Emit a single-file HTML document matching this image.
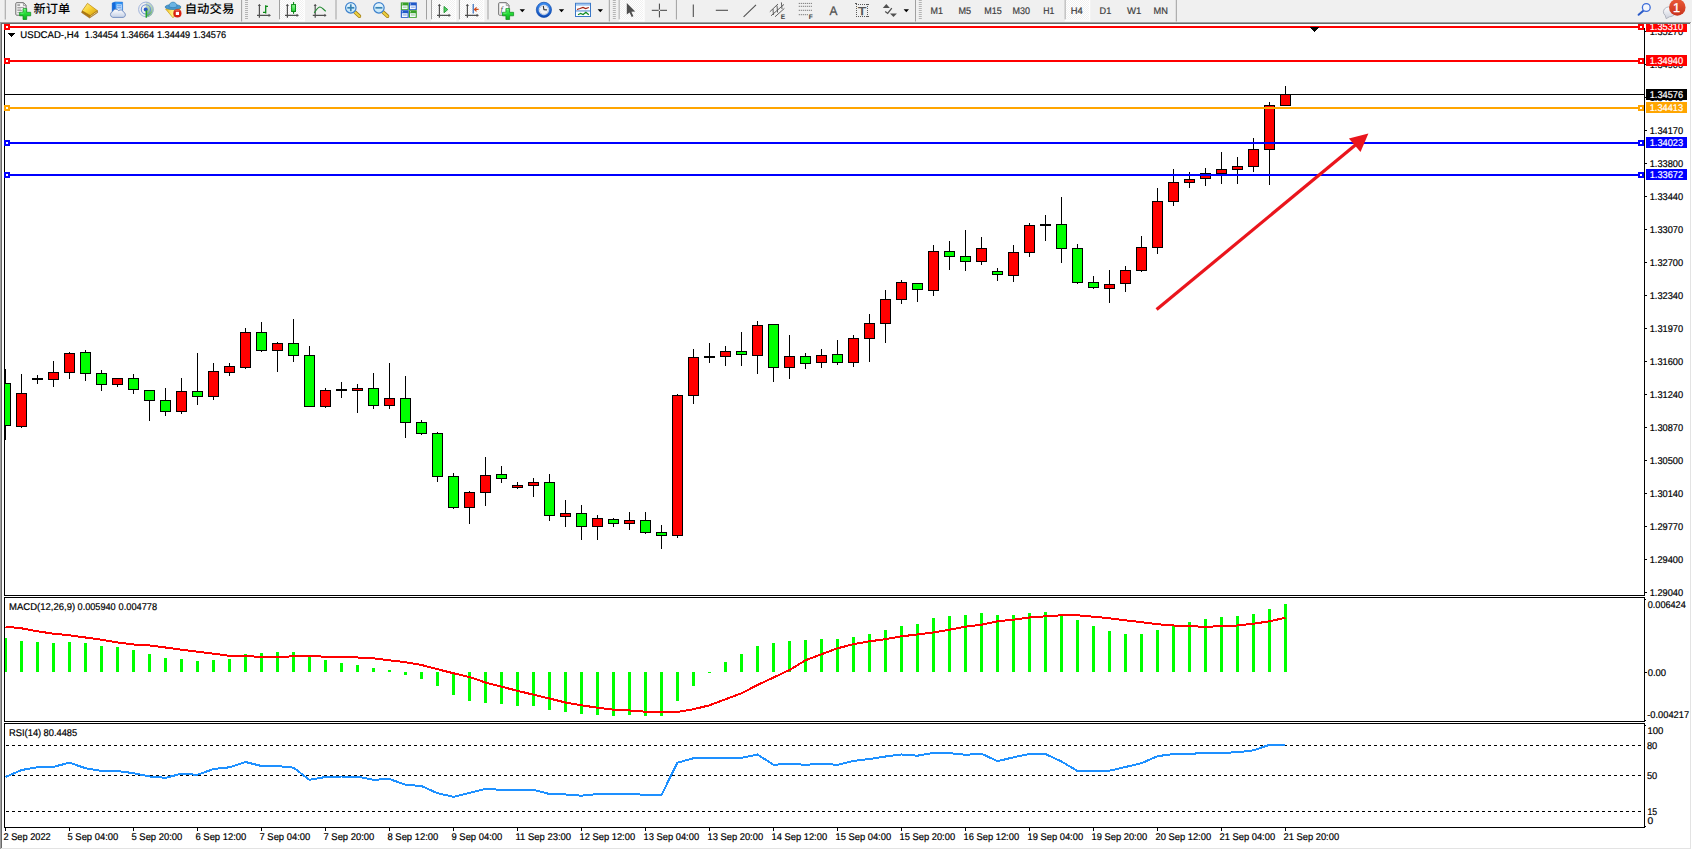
<!DOCTYPE html>
<html lang="zh-CN">
<head>
<meta charset="utf-8">
<title>USDCAD-,H4</title>
<style>
html,body{margin:0;padding:0;background:#ffffff;overflow:hidden;}
body{width:1692px;height:850px;position:relative;font-family:"Liberation Sans","Noto Sans CJK SC",sans-serif;}
svg text{white-space:pre;text-rendering:geometricPrecision;}
</style>
</head>
<body>
<svg width="1692" height="850" viewBox="0 0 1692 850" style="position:absolute;left:0;top:0;font-family:'Liberation Sans','Noto Sans CJK SC',sans-serif">
<defs>
<linearGradient id="gBadge" x1="0" y1="0" x2="0" y2="1"><stop offset="0" stop-color="#ea5a36"/><stop offset="1" stop-color="#c8321c"/></linearGradient>
<linearGradient id="gGold" x1="0" y1="0" x2="1" y2="1"><stop offset="0" stop-color="#fff090"/><stop offset="0.5" stop-color="#f8d030"/><stop offset="1" stop-color="#d09a10"/></linearGradient>
<linearGradient id="gGreen" x1="0" y1="0" x2="0" y2="1"><stop offset="0" stop-color="#58f468"/><stop offset="0.5" stop-color="#22d834"/><stop offset="1" stop-color="#10a81c"/></linearGradient>
<linearGradient id="gBlue" x1="0" y1="0" x2="0" y2="1"><stop offset="0" stop-color="#5aa0f0"/><stop offset="1" stop-color="#1048b8"/></linearGradient>
<linearGradient id="gLens" x1="0" y1="0" x2="0" y2="1"><stop offset="0" stop-color="#eaf8ff"/><stop offset="1" stop-color="#bfe4f8"/></linearGradient>
<linearGradient id="gTop" x1="0" y1="0" x2="0" y2="1"><stop offset="0" stop-color="#f0f0f0"/><stop offset="0.35" stop-color="#a6a6a6"/><stop offset="0.8" stop-color="#8a8a8a"/><stop offset="1" stop-color="#c8c8c8"/></linearGradient>
<pattern id="pDot" width="2" height="2" patternUnits="userSpaceOnUse"><rect width="2" height="2" fill="#ffffff"/><rect width="1" height="1" fill="#f0f0f0"/><rect x="1" y="1" width="1" height="1" fill="#f0f0f0"/></pattern>
<linearGradient id="gSig" x1="0" y1="0" x2="0" y2="1"><stop offset="0" stop-color="#d4e2d8"/><stop offset="0.5" stop-color="#a4cca4"/><stop offset="1" stop-color="#48a848"/></linearGradient>
<linearGradient id="gBlue2" x1="0" y1="0" x2="1" y2="1"><stop offset="0" stop-color="#40a8ff"/><stop offset="1" stop-color="#1878e8"/></linearGradient>
<linearGradient id="gCloud" x1="0" y1="0" x2="0" y2="1"><stop offset="0" stop-color="#ffffff"/><stop offset="1" stop-color="#c4d0e6"/></linearGradient>
<linearGradient id="gFun" x1="0" y1="0" x2="1" y2="0"><stop offset="0" stop-color="#f0c020"/><stop offset="0.45" stop-color="#fff080"/><stop offset="1" stop-color="#e8b018"/></linearGradient>
<linearGradient id="gBub" x1="0" y1="0" x2="0" y2="1"><stop offset="0" stop-color="#ffffff"/><stop offset="1" stop-color="#ccd0dc"/></linearGradient>
<linearGradient id="gCan" x1="0" y1="0" x2="0" y2="1"><stop offset="0" stop-color="#98ff9c"/><stop offset="1" stop-color="#20d030"/></linearGradient>
<linearGradient id="gClk" x1="0" y1="0" x2="0" y2="1"><stop offset="0" stop-color="#3c90f4"/><stop offset="1" stop-color="#0c48b4"/></linearGradient>
</defs>
<rect x="0" y="0" width="1692" height="850" fill="#ffffff"/>
<rect x="0" y="0" width="1692" height="22" fill="#f0f0f0"/>
<g shape-rendering="crispEdges">
<rect x="0" y="22" width="1691" height="1" fill="#a0a0a0"/>
<rect x="0" y="22" width="1" height="827" fill="#a0a0a0"/>
<rect x="1" y="23" width="1689" height="1" fill="#696969"/>
<rect x="1" y="23" width="1" height="825" fill="#696969"/>
<rect x="1690" y="23" width="1" height="826" fill="#e3e3e3"/>
<rect x="1" y="848" width="1690" height="1" fill="#e3e3e3"/>
<rect x="1691" y="22" width="1" height="828" fill="#ffffff"/>
</g>
<rect x="4.75" y="0" width="1" height="19.5" fill="#a0a0a0"/>
<path d="M16.6 2.7 H23.6 L26.1 5.4 V14.2 Q26.1 15.2 25.1 15.2 H16.6 Q15.8 15.2 15.8 14.2 V3.6 Q15.8 2.7 16.6 2.7 Z" fill="#fbfbfb" stroke="#6a6a6a" stroke-width="1"/>
<path d="M23.4 2.9 V5.6 H26" fill="none" stroke="#8a8a8a" stroke-width="0.8"/>
<rect x="17.3" y="4.4" width="2.8" height="1.3" fill="#808080"/>
<rect x="17.3" y="6.9" width="7" height="0.9" fill="#909090"/>
<rect x="17.3" y="8.6" width="4" height="0.9" fill="#909090"/>
<rect x="17.3" y="10.2" width="4.6" height="0.9" fill="#909090"/>
<rect x="17.3" y="12.3" width="2.4" height="0.9" fill="#909090"/>
<path d="M23 8.6 H26.7 V12.3 H30.7 V15.8 H26.7 V19.5 H23 V15.8 H19.6 V12.3 H23 Z" fill="url(#gGreen)" stroke="#0c8a18" stroke-width="0.7" stroke-linejoin="round"/>
<path d="M23.8 9.4 H25.4 M20.4 13.1 H23.6" stroke="#a8ffb0" stroke-width="0.7" fill="none" opacity="0.8"/>
<text x="33.6" y="13" font-size="12" font-weight="500" fill="#000" textLength="36.8" lengthAdjust="spacingAndGlyphs">新订单</text>
<g stroke-linejoin="round">
<path d="M81.9 11.4 L87.4 3.4 L97.5 10.9 L90 17 Z" fill="#9a6408"/>
<path d="M90.3 15.6 L97.5 10.6 L97.6 12.6 L89.6 18 L81.6 12.6 L82 11.2 Z" fill="#b07a14" stroke="#8a5a06" stroke-width="0.5"/>
<path d="M90.4 16.4 L97.2 11.6" stroke="#f4e4b0" stroke-width="0.7"/>
<path d="M82.2 10.8 L87.5 3.3 L97.3 10.5 L90.4 15.5 Z" fill="url(#gGold)" stroke="#b88410" stroke-width="0.6"/>
</g>
<g>
<path d="M112.2 3 L115.4 1.9 L122.6 2.1 L122.6 12 L112.2 12 Z" fill="url(#gBlue2)" stroke="#1c6cd0" stroke-width="0.5"/>
<path d="M112.2 3 L115.4 1.9 L115.4 12 L112.2 12 Z" fill="#1468d8"/>
<rect x="116.6" y="4.4" width="5.2" height="6" fill="#d8ecff"/>
<rect x="117.2" y="5.4" width="4" height="0.9" fill="#3a80e0"/><rect x="117.2" y="7.4" width="4" height="0.9" fill="#3a80e0"/>
<path d="M112.8 17.4 A3 3 0 0 1 112.6 11.6 A3.4 3.4 0 0 1 118.6 10.6 A3.2 3.2 0 0 1 123.6 12.2 A2.7 2.7 0 0 1 123.2 17.4 Z" fill="url(#gCloud)" stroke="#6c88bc" stroke-width="0.9"/>
</g>
<g>
<path d="M145.9 1.6 A7.8 7.8 0 0 1 145.9 17.2 Z" fill="url(#gSig)"/>
<circle cx="145.9" cy="9.4" r="7.3" fill="none" stroke="#a0b4dc" stroke-width="1"/>
<circle cx="145.9" cy="9.4" r="4.6" fill="none" stroke="#6c90d4" stroke-width="1.1"/>
<circle cx="145.7" cy="9.4" r="2" fill="#2858c8"/>
<rect x="145.6" y="10.3" width="1.5" height="7.4" fill="#22a428"/>
</g>
<g>
<path d="M165.6 9 L180.6 8.2 L173 17.8 Z" fill="url(#gFun)" stroke="#c89a10" stroke-width="0.7" stroke-linejoin="round"/>
<ellipse cx="173" cy="7" rx="7.9" ry="2.5" fill="#4a98d0" stroke="#2c78ac" stroke-width="0.7"/>
<path d="M169 6.6 C169 0.6 177 0.6 177 6.6 C175 8 171 8 169 6.6 Z" fill="#6ab4e4" stroke="#2c78ac" stroke-width="0.6"/>
<circle cx="177.4" cy="13.4" r="4.1" fill="#d82010"/>
<path d="M174 11.6 A4 4 0 0 1 180.6 11.2 A6 4 0 0 0 174 11.6 Z" fill="#f08070" opacity="0.7"/>
<rect x="175.8" y="11.8" width="3.2" height="3.2" fill="#fff"/>
</g>
<text x="184.7" y="13" font-size="12" font-weight="500" fill="#000" textLength="49.6" lengthAdjust="spacingAndGlyphs">自动交易</text>
<rect x="241.10" y="0" width="1" height="21.5" fill="#a0a0a0"/>
<rect x="245.0" y="0" width="3" height="1" fill="#b4b4b4"/>
<rect x="245.0" y="2" width="3" height="1" fill="#b4b4b4"/>
<rect x="245.0" y="4" width="3" height="1" fill="#b4b4b4"/>
<rect x="245.0" y="6" width="3" height="1" fill="#b4b4b4"/>
<rect x="245.0" y="8" width="3" height="1" fill="#b4b4b4"/>
<rect x="245.0" y="10" width="3" height="1" fill="#b4b4b4"/>
<rect x="245.0" y="12" width="3" height="1" fill="#b4b4b4"/>
<rect x="245.0" y="14" width="3" height="1" fill="#b4b4b4"/>
<rect x="245.0" y="16" width="3" height="1" fill="#b4b4b4"/>
<rect x="245.0" y="18" width="3" height="1" fill="#b4b4b4"/>
<path d="M259.4 4.4 V17.8 M257 15.4 H270.2" stroke="#505050" stroke-width="1.2" fill="none"/>
<path d="M257.8 6 L259.4 3.9 L261 6 Z M268.6 13.8 L270.8 15.4 L268.6 17 Z" fill="#505050" stroke="none"/>
<path d="M265.7 5.3 V13.4 M265.7 6.4 H268 M263 12.4 H265.7" stroke="#0c8a18" stroke-width="1.3" fill="none"/>
<rect x="279.00" y="0" width="1" height="19.5" fill="#a0a0a0"/>
<rect x="280" y="0" width="24.5" height="19.6" fill="url(#pDot)"/>
<rect x="303.7" y="0" width="1" height="21.4" fill="#ffffff"/>
<rect x="279" y="19.6" width="25.7" height="1.8" fill="#ffffff"/>
<path d="M287.4 4.4 V17.8 M285 15.4 H298.2" stroke="#505050" stroke-width="1.2" fill="none"/>
<path d="M285.8 6 L287.4 3.9 L289 6 Z M296.6 13.8 L298.8 15.4 L296.6 17 Z" fill="#505050" stroke="none"/>
<rect x="293" y="2.1" width="1.1" height="11.7" fill="#0c8a18"/>
<rect x="291.6" y="4.6" width="3.9" height="6.9" fill="url(#gCan)" stroke="#0c8a18" stroke-width="1"/>
<path d="M315.2 4.4 V17.8 M312.8 15.4 H326.0" stroke="#505050" stroke-width="1.2" fill="none"/>
<path d="M313.6 6 L315.2 3.9 L316.8 6 Z M324.40000000000003 13.8 L326.6 15.4 L324.40000000000003 17 Z" fill="#505050" stroke="none"/>
<path d="M314.2 12.8 C316.5 10 318 6.8 320 7 C322 7.2 323.5 9.6 325.8 11.2" stroke="#208a30" stroke-width="1.1" fill="none"/>
<rect x="335.50" y="0" width="1" height="19.5" fill="#a0a0a0"/>
<path d="M355.0 12.2 L359.40000000000003 16.2" stroke="#a07c14" stroke-width="3.6" stroke-linecap="round"/>
<path d="M355.0 12.2 L359.40000000000003 16.2" stroke="#ecd040" stroke-width="2.2" stroke-linecap="round"/>
<circle cx="350.8" cy="7.8" r="5.25" fill="url(#gLens)" stroke="#3c80cc" stroke-width="1.2"/>
<rect x="347.3" y="6.95" width="7" height="1.7" fill="#3a84b4"/>
<rect x="349.95" y="4.3" width="1.7" height="7" fill="#3a84b4"/>
<path d="M383.1 12.2 L387.50000000000006 16.2" stroke="#a07c14" stroke-width="3.6" stroke-linecap="round"/>
<path d="M383.1 12.2 L387.50000000000006 16.2" stroke="#ecd040" stroke-width="2.2" stroke-linecap="round"/>
<circle cx="378.90000000000003" cy="7.8" r="5.25" fill="url(#gLens)" stroke="#3c80cc" stroke-width="1.2"/>
<rect x="375.40000000000003" y="6.95" width="7" height="1.7" fill="#3a84b4"/>
<rect x="400.8" y="2.4" width="7.9" height="7.6" fill="#38a028"/>
<rect x="401.90000000000003" y="5.4" width="5.7" height="3.8" fill="#f4f8ff"/>
<rect x="402.8" y="6.699999999999999" width="3.9" height="0.9" fill="#38a028" opacity="0.6"/>
<rect x="401.90000000000003" y="3.5" width="1" height="1" fill="#ffffff" opacity="0.8"/>
<rect x="408.9" y="2.4" width="7.9" height="7.6" fill="#2058c8"/>
<rect x="410.0" y="5.4" width="5.7" height="3.8" fill="#f4f8ff"/>
<rect x="410.9" y="6.699999999999999" width="3.9" height="0.9" fill="#2058c8" opacity="0.6"/>
<rect x="410.0" y="3.5" width="1" height="1" fill="#ffffff" opacity="0.8"/>
<rect x="400.8" y="10.2" width="7.9" height="7.6" fill="#2058c8"/>
<rect x="401.90000000000003" y="13.2" width="5.7" height="3.8" fill="#f4f8ff"/>
<rect x="402.8" y="14.5" width="3.9" height="0.9" fill="#2058c8" opacity="0.6"/>
<rect x="401.90000000000003" y="11.299999999999999" width="1" height="1" fill="#ffffff" opacity="0.8"/>
<rect x="408.9" y="10.2" width="7.9" height="7.6" fill="#38a028"/>
<rect x="410.0" y="13.2" width="5.7" height="3.8" fill="#f4f8ff"/>
<rect x="410.9" y="14.5" width="3.9" height="0.9" fill="#38a028" opacity="0.6"/>
<rect x="410.0" y="11.299999999999999" width="1" height="1" fill="#ffffff" opacity="0.8"/>
<rect x="426.00" y="0" width="1" height="19.5" fill="#a0a0a0"/>
<rect x="431.00" y="0" width="1" height="19.5" fill="#a0a0a0"/>
<rect x="432" y="0" width="24" height="19.6" fill="url(#pDot)"/>
<rect x="455.2" y="0" width="1" height="21.4" fill="#ffffff"/>
<rect x="431" y="19.6" width="25.2" height="1.8" fill="#ffffff"/>
<path d="M439.4 4.4 V17.8 M437 15.4 H450.2" stroke="#505050" stroke-width="1.2" fill="none"/>
<path d="M437.8 6 L439.4 3.9 L441 6 Z M448.6 13.8 L450.8 15.4 L448.6 17 Z" fill="#505050" stroke="none"/>
<path d="M444 6.4 L447.8 9.6 L444 12.8 Z" fill="#50d060" stroke="#188a28" stroke-width="0.8"/>
<rect x="458.90" y="0" width="1" height="19.5" fill="#a0a0a0"/>
<rect x="460" y="0" width="24" height="19.6" fill="url(#pDot)"/>
<rect x="483.2" y="0" width="1" height="21.4" fill="#ffffff"/>
<rect x="459" y="19.6" width="25.2" height="1.8" fill="#ffffff"/>
<path d="M467.4 4.4 V17.8 M465 15.4 H478.2" stroke="#505050" stroke-width="1.2" fill="none"/>
<path d="M465.8 6 L467.4 3.9 L469 6 Z M476.6 13.8 L478.8 15.4 L476.6 17 Z" fill="#505050" stroke="none"/>
<path d="M473.2 4 V13.6" stroke="#2060b8" stroke-width="1.1"/>
<path d="M478.6 9.4 H474.6 M476.6 7.4 L474.4 9.4 L476.6 11.4" stroke="#d04818" stroke-width="1.1" fill="none"/>
<rect x="487.50" y="0" width="1" height="19.5" fill="#a0a0a0"/>
<path d="M499.5 2.7 H506.5 L509.0 5.4 V14.2 Q509.0 15.2 508.0 15.2 H499.5 Q498.7 15.2 498.7 14.2 V3.6 Q498.7 2.7 499.5 2.7 Z" fill="#fbfbfb" stroke="#6a6a6a" stroke-width="1"/>
<path d="M506.29999999999995 2.9 V5.6 H508.9" fill="none" stroke="#8a8a8a" stroke-width="0.8"/>
<text x="500.5" y="12.2" font-size="8" font-style="italic" font-family="Liberation Serif,serif" fill="#505050">f</text>
<path d="M505.9 8.6 H509.59999999999997 V12.3 H513.6 V15.8 H509.59999999999997 V19.5 H505.9 V15.8 H502.5 V12.3 H505.9 Z" fill="url(#gGreen)" stroke="#0c8a18" stroke-width="0.7" stroke-linejoin="round"/>
<path d="M506.7 9.4 H508.29999999999995 M503.29999999999995 13.1 H506.5" stroke="#a8ffb0" stroke-width="0.7" fill="none" opacity="0.8"/>
<path d="M519.6 9.3 L525.0 9.3 L522.3000000000001 12.2 Z" fill="#000"/>
<circle cx="543.9" cy="9.85" r="7.6" fill="url(#gClk)" stroke="#0c48ac" stroke-width="0.7"/>
<circle cx="543.9" cy="9.85" r="5.3" fill="#f0f2f6" stroke="#3c7cd8" stroke-width="0.5"/>
<rect x="547.85" y="9.50" width="0.7" height="0.7" fill="#8890a0"/>
<rect x="547.27" y="11.65" width="0.7" height="0.7" fill="#8890a0"/>
<rect x="545.70" y="13.22" width="0.7" height="0.7" fill="#8890a0"/>
<rect x="543.55" y="13.80" width="0.7" height="0.7" fill="#8890a0"/>
<rect x="541.40" y="13.22" width="0.7" height="0.7" fill="#8890a0"/>
<rect x="539.83" y="11.65" width="0.7" height="0.7" fill="#8890a0"/>
<rect x="539.25" y="9.50" width="0.7" height="0.7" fill="#8890a0"/>
<rect x="539.83" y="7.35" width="0.7" height="0.7" fill="#8890a0"/>
<rect x="541.40" y="5.78" width="0.7" height="0.7" fill="#8890a0"/>
<rect x="543.55" y="5.20" width="0.7" height="0.7" fill="#8890a0"/>
<rect x="545.70" y="5.78" width="0.7" height="0.7" fill="#8890a0"/>
<rect x="547.27" y="7.35" width="0.7" height="0.7" fill="#8890a0"/>
<path d="M543.3 6 L543.9 9.7 L546.9 9.9" stroke="#303030" stroke-width="1.1" fill="none" stroke-linejoin="round"/>
<path d="M558.8 9.3 L564.1999999999999 9.3 L561.5 12.2 Z" fill="#000"/>
<rect x="575.5" y="3.3" width="15" height="13.2" fill="#fbfdff" stroke="#3a78c8" stroke-width="1"/>
<rect x="576" y="3.8" width="14" height="1.9" fill="#9cc4f0"/>
<rect x="576" y="10.5" width="14" height="0.9" fill="#3a78c8"/>
<path d="M577 9.5 L580 8.5 L583 7.4 L585.6 8.5 L588.8 7.5" stroke="#a02010" stroke-width="1.2" fill="none"/>
<path d="M578 14.7 L580.6 13.5 L583.1 14.5 L585.9 12.2 L588.8 14.7" stroke="#108a20" stroke-width="1.2" fill="none"/>
<path d="M597.6 9.3 L603.0 9.3 L600.3000000000001 12.2 Z" fill="#000"/>
<rect x="608.80" y="0" width="1" height="21.5" fill="#a0a0a0"/>
<rect x="612.8" y="0" width="3" height="1" fill="#b4b4b4"/>
<rect x="612.8" y="2" width="3" height="1" fill="#b4b4b4"/>
<rect x="612.8" y="4" width="3" height="1" fill="#b4b4b4"/>
<rect x="612.8" y="6" width="3" height="1" fill="#b4b4b4"/>
<rect x="612.8" y="8" width="3" height="1" fill="#b4b4b4"/>
<rect x="612.8" y="10" width="3" height="1" fill="#b4b4b4"/>
<rect x="612.8" y="12" width="3" height="1" fill="#b4b4b4"/>
<rect x="612.8" y="14" width="3" height="1" fill="#b4b4b4"/>
<rect x="612.8" y="16" width="3" height="1" fill="#b4b4b4"/>
<rect x="612.8" y="18" width="3" height="1" fill="#b4b4b4"/>
<rect x="618.70" y="0" width="1" height="19.5" fill="#a0a0a0"/>
<rect x="619.8" y="0" width="24.5" height="19.6" fill="url(#pDot)"/>
<rect x="643.5" y="0" width="1" height="21.4" fill="#ffffff"/>
<rect x="618.8" y="19.6" width="25.7" height="1.8" fill="#ffffff"/>
<path d="M626.8 3 L626.8 14.6 L629.6 12.4 L631.7 17.1 L633.4 16.3 L631.4 11.8 L635.2 11.4 Z" fill="#505050"/>
<path d="M659.4 3.6 V17.4 M651.8 10.3 H667" stroke="#404040" stroke-width="1" fill="none"/>
<rect x="658.7" y="9.6" width="1.4" height="1.4" fill="#f0f0f0"/>
<rect x="675.90" y="0" width="1" height="19.5" fill="#a0a0a0"/>
<path d="M693.3 4.4 V16.9" stroke="#505050" stroke-width="1.1"/>
<path d="M715.8 10.3 H728" stroke="#505050" stroke-width="1.1"/>
<path d="M743.6 16.8 L756 4.8" stroke="#505050" stroke-width="1.1"/>
<g stroke="#505050" stroke-width="0.9" fill="none"><path d="M769.8 11.8 L778 4 M771 15.8 L784 4.4 M775 16.8 L784.4 8.4 M773 9 L773.4 15 M777 5.6 L777.6 12.6 M781.4 2.4 L782 9"/></g>
<text x="780.8" y="18.7" font-size="6.6" font-weight="bold" fill="#404040">E</text>
<path d="M798.8 3.4 H812" stroke="#606060" stroke-width="1" stroke-dasharray="1 1"/>
<path d="M798.8 6.3 H812" stroke="#606060" stroke-width="1" stroke-dasharray="1 1"/>
<path d="M798.8 10.3 H812" stroke="#606060" stroke-width="1" stroke-dasharray="1 1"/>
<path d="M798.8 14.7 H812" stroke="#606060" stroke-width="1" stroke-dasharray="1 1"/>
<rect x="808" y="13.4" width="5.4" height="6" fill="#f0f0f0"/>
<text x="808.8" y="18.7" font-size="6.6" font-weight="bold" fill="#404040">F</text>
<text x="829.5" y="15" font-size="12.5" fill="#505050" stroke="#505050" stroke-width="0.3" textLength="7.9" lengthAdjust="spacingAndGlyphs">A</text>
<g shape-rendering="crispEdges" fill="#585858">
<rect x="856" y="4" width="1" height="1"/><rect x="856" y="16" width="1" height="1"/>
<rect x="858" y="4" width="1" height="1"/><rect x="858" y="16" width="1" height="1"/>
<rect x="860" y="4" width="1" height="1"/><rect x="860" y="16" width="1" height="1"/>
<rect x="862" y="4" width="1" height="1"/><rect x="862" y="16" width="1" height="1"/>
<rect x="864" y="4" width="1" height="1"/><rect x="864" y="16" width="1" height="1"/>
<rect x="866" y="4" width="1" height="1"/><rect x="866" y="16" width="1" height="1"/>
<rect x="868" y="4" width="1" height="1"/><rect x="868" y="16" width="1" height="1"/>
<rect x="856" y="6" width="1" height="1"/><rect x="867" y="6" width="1" height="1"/>
<rect x="856" y="8" width="1" height="1"/><rect x="867" y="8" width="1" height="1"/>
<rect x="856" y="10" width="1" height="1"/><rect x="867" y="10" width="1" height="1"/>
<rect x="856" y="12" width="1" height="1"/><rect x="867" y="12" width="1" height="1"/>
<rect x="856" y="14" width="1" height="1"/><rect x="867" y="14" width="1" height="1"/>
<rect x="867" y="4" width="1" height="1"/><rect x="867" y="16" width="1" height="1"/><rect x="855" y="3" width="2" height="1"/>
</g>
<text x="858.1" y="15" font-size="11.4" fill="#505050" stroke="#505050" stroke-width="0.45" textLength="8.2" lengthAdjust="spacingAndGlyphs">T</text>
<path d="M886.3 3.9 L889.8 7.9 L882.8 7.9 Z" fill="#505050"/>
<path d="M890 13.4 L896.9 13.4 L893.5 17 Z" fill="#505050"/>
<path d="M885.2 11.4 L887.7 13.4 L891.8 8.2" stroke="#505050" stroke-width="1.3" fill="none"/>
<path d="M903.6 9.3 L909.0 9.3 L906.3000000000001 12.2 Z" fill="#000"/>
<rect x="915.00" y="0" width="1" height="21.5" fill="#a0a0a0"/>
<rect x="918.8" y="0" width="3" height="1" fill="#b4b4b4"/>
<rect x="918.8" y="2" width="3" height="1" fill="#b4b4b4"/>
<rect x="918.8" y="4" width="3" height="1" fill="#b4b4b4"/>
<rect x="918.8" y="6" width="3" height="1" fill="#b4b4b4"/>
<rect x="918.8" y="8" width="3" height="1" fill="#b4b4b4"/>
<rect x="918.8" y="10" width="3" height="1" fill="#b4b4b4"/>
<rect x="918.8" y="12" width="3" height="1" fill="#b4b4b4"/>
<rect x="918.8" y="14" width="3" height="1" fill="#b4b4b4"/>
<rect x="918.8" y="16" width="3" height="1" fill="#b4b4b4"/>
<rect x="918.8" y="18" width="3" height="1" fill="#b4b4b4"/>
<text x="930.6" y="13.8" font-size="9.6" fill="#404040" stroke="#404040" stroke-width="0.2" textLength="12.4" lengthAdjust="spacingAndGlyphs">M1</text>
<text x="958.4" y="13.8" font-size="9.6" fill="#404040" stroke="#404040" stroke-width="0.2" textLength="12.6" lengthAdjust="spacingAndGlyphs">M5</text>
<text x="984.3" y="13.8" font-size="9.6" fill="#404040" stroke="#404040" stroke-width="0.2" textLength="17.5" lengthAdjust="spacingAndGlyphs">M15</text>
<text x="1012.4" y="13.8" font-size="9.6" fill="#404040" stroke="#404040" stroke-width="0.2" textLength="17.5" lengthAdjust="spacingAndGlyphs">M30</text>
<text x="1043.2" y="13.8" font-size="9.6" fill="#404040" stroke="#404040" stroke-width="0.2" textLength="11.1" lengthAdjust="spacingAndGlyphs">H1</text>
<rect x="1064.70" y="0" width="1" height="19.5" fill="#a0a0a0"/>
<rect x="1065.8" y="0" width="24.200000000000045" height="19.6" fill="url(#pDot)"/>
<rect x="1089.2" y="0" width="1" height="21.4" fill="#ffffff"/>
<rect x="1064.8" y="19.6" width="25.400000000000045" height="1.8" fill="#ffffff"/>
<text x="1070.8" y="13.8" font-size="9.6" fill="#404040" stroke="#404040" stroke-width="0.2" textLength="12.0" lengthAdjust="spacingAndGlyphs">H4</text>
<text x="1099.6" y="13.8" font-size="9.6" fill="#404040" stroke="#404040" stroke-width="0.2" textLength="11.7" lengthAdjust="spacingAndGlyphs">D1</text>
<text x="1126.9" y="13.8" font-size="9.6" fill="#404040" stroke="#404040" stroke-width="0.2" textLength="14.4" lengthAdjust="spacingAndGlyphs">W1</text>
<text x="1153.6" y="13.8" font-size="9.6" fill="#404040" stroke="#404040" stroke-width="0.2" textLength="14.4" lengthAdjust="spacingAndGlyphs">MN</text>
<rect x="1175.80" y="0" width="1" height="21.5" fill="#a0a0a0"/>
<path d="M1643.6 10.4 L1638.6 14.8" stroke="#2c5cc8" stroke-width="2" stroke-linecap="round"/>
<circle cx="1646.3" cy="7.5" r="3.9" fill="#f4f6fc" stroke="#3c6cd8" stroke-width="1.3"/>
<path d="M1666.2 18.7 L1665.2 15.4 A6 5 0 1 1 1669.4 16.8 Z" fill="url(#gBub)" stroke="#a4a8b4" stroke-width="0.8" stroke-linejoin="round"/>
<circle cx="1677.3" cy="7.4" r="8.25" fill="url(#gBadge)"/>
<text x="1673" y="12.1" font-size="12.8" fill="#fff" stroke="#fff" stroke-width="0.3">1</text>
<g shape-rendering="crispEdges">
<rect x="4" y="30" width="1" height="566" fill="#000"/>
<rect x="4" y="597" width="1" height="125" fill="#000"/>
<rect x="4" y="723" width="1" height="105" fill="#000"/>
<rect x="1644" y="28" width="1" height="568" fill="#000"/>
<rect x="1644" y="597" width="1" height="125" fill="#000"/>
<rect x="1644" y="723" width="1" height="105" fill="#000"/>
<rect x="4" y="595" width="1641" height="1" fill="#000"/>
<rect x="4" y="597" width="1641" height="1" fill="#000"/>
<rect x="4" y="721" width="1641" height="1" fill="#000"/>
<rect x="4" y="723" width="1641" height="1" fill="#000"/>
<rect x="4" y="827" width="1641" height="1" fill="#000"/>
<rect x="1645" y="599" width="1" height="1" fill="#000"/>
<rect x="1645" y="720" width="1" height="1" fill="#000"/>
<rect x="1645" y="725" width="1" height="1" fill="#000"/>
<rect x="1645" y="826" width="1" height="1" fill="#000"/>
<rect x="1645" y="31" width="2" height="1" fill="#000"/>
<rect x="1645" y="64" width="2" height="1" fill="#000"/>
<rect x="1645" y="97" width="2" height="1" fill="#000"/>
<rect x="1645" y="130" width="2" height="1" fill="#000"/>
<rect x="1645" y="163" width="2" height="1" fill="#000"/>
<rect x="1645" y="196" width="2" height="1" fill="#000"/>
<rect x="1645" y="229" width="2" height="1" fill="#000"/>
<rect x="1645" y="262" width="2" height="1" fill="#000"/>
<rect x="1645" y="295" width="2" height="1" fill="#000"/>
<rect x="1645" y="328" width="2" height="1" fill="#000"/>
<rect x="1645" y="361" width="2" height="1" fill="#000"/>
<rect x="1645" y="394" width="2" height="1" fill="#000"/>
<rect x="1645" y="427" width="2" height="1" fill="#000"/>
<rect x="1645" y="460" width="2" height="1" fill="#000"/>
<rect x="1645" y="493" width="2" height="1" fill="#000"/>
<rect x="1645" y="526" width="2" height="1" fill="#000"/>
<rect x="1645" y="559" width="2" height="1" fill="#000"/>
<rect x="1645" y="592" width="2" height="1" fill="#000"/>
</g>
<g font-size="9.8" fill="#000" stroke="#000" stroke-width="0.2">
<text x="1649.7" y="35" textLength="33.5" lengthAdjust="spacingAndGlyphs">1.35270</text>
<text x="1649.7" y="68" textLength="33.5" lengthAdjust="spacingAndGlyphs">1.34900</text>
<text x="1649.7" y="101" textLength="33.5" lengthAdjust="spacingAndGlyphs">1.34540</text>
<text x="1649.7" y="134" textLength="33.5" lengthAdjust="spacingAndGlyphs">1.34170</text>
<text x="1649.7" y="167" textLength="33.5" lengthAdjust="spacingAndGlyphs">1.33800</text>
<text x="1649.7" y="200" textLength="33.5" lengthAdjust="spacingAndGlyphs">1.33440</text>
<text x="1649.7" y="233" textLength="33.5" lengthAdjust="spacingAndGlyphs">1.33070</text>
<text x="1649.7" y="266" textLength="33.5" lengthAdjust="spacingAndGlyphs">1.32700</text>
<text x="1649.7" y="299" textLength="33.5" lengthAdjust="spacingAndGlyphs">1.32340</text>
<text x="1649.7" y="332" textLength="33.5" lengthAdjust="spacingAndGlyphs">1.31970</text>
<text x="1649.7" y="365" textLength="33.5" lengthAdjust="spacingAndGlyphs">1.31600</text>
<text x="1649.7" y="398" textLength="33.5" lengthAdjust="spacingAndGlyphs">1.31240</text>
<text x="1649.7" y="431" textLength="33.5" lengthAdjust="spacingAndGlyphs">1.30870</text>
<text x="1649.7" y="464" textLength="33.5" lengthAdjust="spacingAndGlyphs">1.30500</text>
<text x="1649.7" y="497" textLength="33.5" lengthAdjust="spacingAndGlyphs">1.30140</text>
<text x="1649.7" y="530" textLength="33.5" lengthAdjust="spacingAndGlyphs">1.29770</text>
<text x="1649.7" y="563" textLength="33.5" lengthAdjust="spacingAndGlyphs">1.29400</text>
<text x="1649.7" y="596" textLength="33.5" lengthAdjust="spacingAndGlyphs">1.29040</text>
</g>
<g shape-rendering="crispEdges">
<rect x="5" y="369" width="1" height="71" fill="#000"/>
<rect x="4" y="383" width="7" height="43" fill="#000"/>
<rect x="5" y="384" width="5" height="41" fill="#00ff00"/>
<rect x="21" y="374" width="1" height="54" fill="#000"/>
<rect x="16" y="393" width="11" height="34" fill="#000"/>
<rect x="17" y="394" width="9" height="32" fill="#ff0000"/>
<rect x="37" y="375" width="1" height="9" fill="#000"/>
<rect x="32" y="378" width="11" height="2" fill="#000"/>
<rect x="53" y="361" width="1" height="26" fill="#000"/>
<rect x="48" y="372" width="11" height="8" fill="#000"/>
<rect x="49" y="373" width="9" height="6" fill="#ff0000"/>
<rect x="69" y="352" width="1" height="27" fill="#000"/>
<rect x="64" y="353" width="11" height="20" fill="#000"/>
<rect x="65" y="354" width="9" height="18" fill="#ff0000"/>
<rect x="85" y="350" width="1" height="31" fill="#000"/>
<rect x="80" y="352" width="11" height="22" fill="#000"/>
<rect x="81" y="353" width="9" height="20" fill="#00ff00"/>
<rect x="101" y="370" width="1" height="21" fill="#000"/>
<rect x="96" y="373" width="11" height="12" fill="#000"/>
<rect x="97" y="374" width="9" height="10" fill="#00ff00"/>
<rect x="117" y="378" width="1" height="9" fill="#000"/>
<rect x="112" y="378" width="11" height="7" fill="#000"/>
<rect x="113" y="379" width="9" height="5" fill="#ff0000"/>
<rect x="133" y="374" width="1" height="20" fill="#000"/>
<rect x="128" y="378" width="11" height="12" fill="#000"/>
<rect x="129" y="379" width="9" height="10" fill="#00ff00"/>
<rect x="149" y="390" width="1" height="31" fill="#000"/>
<rect x="144" y="390" width="11" height="11" fill="#000"/>
<rect x="145" y="391" width="9" height="9" fill="#00ff00"/>
<rect x="165" y="388" width="1" height="28" fill="#000"/>
<rect x="160" y="400" width="11" height="12" fill="#000"/>
<rect x="161" y="401" width="9" height="10" fill="#00ff00"/>
<rect x="181" y="378" width="1" height="36" fill="#000"/>
<rect x="176" y="391" width="11" height="21" fill="#000"/>
<rect x="177" y="392" width="9" height="19" fill="#ff0000"/>
<rect x="197" y="353" width="1" height="52" fill="#000"/>
<rect x="192" y="391" width="11" height="6" fill="#000"/>
<rect x="193" y="392" width="9" height="4" fill="#00ff00"/>
<rect x="213" y="363" width="1" height="37" fill="#000"/>
<rect x="208" y="371" width="11" height="26" fill="#000"/>
<rect x="209" y="372" width="9" height="24" fill="#ff0000"/>
<rect x="229" y="363" width="1" height="13" fill="#000"/>
<rect x="224" y="366" width="11" height="7" fill="#000"/>
<rect x="225" y="367" width="9" height="5" fill="#ff0000"/>
<rect x="245" y="328" width="1" height="41" fill="#000"/>
<rect x="240" y="332" width="11" height="36" fill="#000"/>
<rect x="241" y="333" width="9" height="34" fill="#ff0000"/>
<rect x="261" y="322" width="1" height="30" fill="#000"/>
<rect x="256" y="332" width="11" height="19" fill="#000"/>
<rect x="257" y="333" width="9" height="17" fill="#00ff00"/>
<rect x="277" y="342" width="1" height="30" fill="#000"/>
<rect x="272" y="343" width="11" height="8" fill="#000"/>
<rect x="273" y="344" width="9" height="6" fill="#ff0000"/>
<rect x="293" y="319" width="1" height="43" fill="#000"/>
<rect x="288" y="343" width="11" height="13" fill="#000"/>
<rect x="289" y="344" width="9" height="11" fill="#00ff00"/>
<rect x="309" y="346" width="1" height="61" fill="#000"/>
<rect x="304" y="355" width="11" height="52" fill="#000"/>
<rect x="305" y="356" width="9" height="50" fill="#00ff00"/>
<rect x="325" y="388" width="1" height="20" fill="#000"/>
<rect x="320" y="390" width="11" height="17" fill="#000"/>
<rect x="321" y="391" width="9" height="15" fill="#ff0000"/>
<rect x="341" y="382" width="1" height="16" fill="#000"/>
<rect x="336" y="389" width="11" height="2" fill="#000"/>
<rect x="357" y="384" width="1" height="29" fill="#000"/>
<rect x="352" y="388" width="11" height="3" fill="#000"/>
<rect x="353" y="389" width="9" height="1" fill="#ff0000"/>
<rect x="373" y="373" width="1" height="36" fill="#000"/>
<rect x="368" y="388" width="11" height="18" fill="#000"/>
<rect x="369" y="389" width="9" height="16" fill="#00ff00"/>
<rect x="389" y="363" width="1" height="46" fill="#000"/>
<rect x="384" y="398" width="11" height="8" fill="#000"/>
<rect x="385" y="399" width="9" height="6" fill="#ff0000"/>
<rect x="405" y="376" width="1" height="62" fill="#000"/>
<rect x="400" y="398" width="11" height="25" fill="#000"/>
<rect x="401" y="399" width="9" height="23" fill="#00ff00"/>
<rect x="421" y="420" width="1" height="15" fill="#000"/>
<rect x="416" y="422" width="11" height="12" fill="#000"/>
<rect x="417" y="423" width="9" height="10" fill="#00ff00"/>
<rect x="437" y="432" width="1" height="50" fill="#000"/>
<rect x="432" y="433" width="11" height="44" fill="#000"/>
<rect x="433" y="434" width="9" height="42" fill="#00ff00"/>
<rect x="453" y="473" width="1" height="36" fill="#000"/>
<rect x="448" y="476" width="11" height="32" fill="#000"/>
<rect x="449" y="477" width="9" height="30" fill="#00ff00"/>
<rect x="469" y="491" width="1" height="33" fill="#000"/>
<rect x="464" y="492" width="11" height="16" fill="#000"/>
<rect x="465" y="493" width="9" height="14" fill="#ff0000"/>
<rect x="485" y="457" width="1" height="49" fill="#000"/>
<rect x="480" y="475" width="11" height="18" fill="#000"/>
<rect x="481" y="476" width="9" height="16" fill="#ff0000"/>
<rect x="501" y="466" width="1" height="17" fill="#000"/>
<rect x="496" y="474" width="11" height="5" fill="#000"/>
<rect x="497" y="475" width="9" height="3" fill="#00ff00"/>
<rect x="517" y="482" width="1" height="7" fill="#000"/>
<rect x="512" y="485" width="11" height="3" fill="#000"/>
<rect x="513" y="486" width="9" height="1" fill="#ff0000"/>
<rect x="533" y="478" width="1" height="19" fill="#000"/>
<rect x="528" y="482" width="11" height="4" fill="#000"/>
<rect x="529" y="483" width="9" height="2" fill="#ff0000"/>
<rect x="549" y="474" width="1" height="47" fill="#000"/>
<rect x="544" y="482" width="11" height="34" fill="#000"/>
<rect x="545" y="483" width="9" height="32" fill="#00ff00"/>
<rect x="565" y="500" width="1" height="27" fill="#000"/>
<rect x="560" y="513" width="11" height="4" fill="#000"/>
<rect x="561" y="514" width="9" height="2" fill="#ff0000"/>
<rect x="581" y="505" width="1" height="35" fill="#000"/>
<rect x="576" y="513" width="11" height="14" fill="#000"/>
<rect x="577" y="514" width="9" height="12" fill="#00ff00"/>
<rect x="597" y="515" width="1" height="25" fill="#000"/>
<rect x="592" y="518" width="11" height="9" fill="#000"/>
<rect x="593" y="519" width="9" height="7" fill="#ff0000"/>
<rect x="613" y="518" width="1" height="9" fill="#000"/>
<rect x="608" y="519" width="11" height="5" fill="#000"/>
<rect x="609" y="520" width="9" height="3" fill="#00ff00"/>
<rect x="629" y="512" width="1" height="18" fill="#000"/>
<rect x="624" y="520" width="11" height="4" fill="#000"/>
<rect x="625" y="521" width="9" height="2" fill="#ff0000"/>
<rect x="645" y="512" width="1" height="22" fill="#000"/>
<rect x="640" y="520" width="11" height="13" fill="#000"/>
<rect x="641" y="521" width="9" height="11" fill="#00ff00"/>
<rect x="661" y="525" width="1" height="24" fill="#000"/>
<rect x="656" y="532" width="11" height="4" fill="#000"/>
<rect x="657" y="533" width="9" height="2" fill="#00ff00"/>
<rect x="677" y="394" width="1" height="144" fill="#000"/>
<rect x="672" y="395" width="11" height="141" fill="#000"/>
<rect x="673" y="396" width="9" height="139" fill="#ff0000"/>
<rect x="693" y="349" width="1" height="55" fill="#000"/>
<rect x="688" y="357" width="11" height="39" fill="#000"/>
<rect x="689" y="358" width="9" height="37" fill="#ff0000"/>
<rect x="709" y="343" width="1" height="20" fill="#000"/>
<rect x="704" y="356" width="11" height="2" fill="#000"/>
<rect x="725" y="346" width="1" height="20" fill="#000"/>
<rect x="720" y="351" width="11" height="6" fill="#000"/>
<rect x="721" y="352" width="9" height="4" fill="#ff0000"/>
<rect x="741" y="332" width="1" height="34" fill="#000"/>
<rect x="736" y="351" width="11" height="4" fill="#000"/>
<rect x="737" y="352" width="9" height="2" fill="#00ff00"/>
<rect x="757" y="321" width="1" height="53" fill="#000"/>
<rect x="752" y="325" width="11" height="31" fill="#000"/>
<rect x="753" y="326" width="9" height="29" fill="#ff0000"/>
<rect x="773" y="324" width="1" height="58" fill="#000"/>
<rect x="768" y="324" width="11" height="44" fill="#000"/>
<rect x="769" y="325" width="9" height="42" fill="#00ff00"/>
<rect x="789" y="335" width="1" height="44" fill="#000"/>
<rect x="784" y="356" width="11" height="12" fill="#000"/>
<rect x="785" y="357" width="9" height="10" fill="#ff0000"/>
<rect x="805" y="353" width="1" height="16" fill="#000"/>
<rect x="800" y="356" width="11" height="8" fill="#000"/>
<rect x="801" y="357" width="9" height="6" fill="#00ff00"/>
<rect x="821" y="349" width="1" height="19" fill="#000"/>
<rect x="816" y="355" width="11" height="8" fill="#000"/>
<rect x="817" y="356" width="9" height="6" fill="#ff0000"/>
<rect x="837" y="340" width="1" height="25" fill="#000"/>
<rect x="832" y="354" width="11" height="9" fill="#000"/>
<rect x="833" y="355" width="9" height="7" fill="#00ff00"/>
<rect x="853" y="335" width="1" height="32" fill="#000"/>
<rect x="848" y="338" width="11" height="25" fill="#000"/>
<rect x="849" y="339" width="9" height="23" fill="#ff0000"/>
<rect x="869" y="314" width="1" height="48" fill="#000"/>
<rect x="864" y="323" width="11" height="16" fill="#000"/>
<rect x="865" y="324" width="9" height="14" fill="#ff0000"/>
<rect x="885" y="290" width="1" height="53" fill="#000"/>
<rect x="880" y="299" width="11" height="25" fill="#000"/>
<rect x="881" y="300" width="9" height="23" fill="#ff0000"/>
<rect x="901" y="280" width="1" height="24" fill="#000"/>
<rect x="896" y="282" width="11" height="18" fill="#000"/>
<rect x="897" y="283" width="9" height="16" fill="#ff0000"/>
<rect x="917" y="283" width="1" height="19" fill="#000"/>
<rect x="912" y="283" width="11" height="7" fill="#000"/>
<rect x="913" y="284" width="9" height="5" fill="#00ff00"/>
<rect x="933" y="245" width="1" height="51" fill="#000"/>
<rect x="928" y="251" width="11" height="40" fill="#000"/>
<rect x="929" y="252" width="9" height="38" fill="#ff0000"/>
<rect x="949" y="241" width="1" height="29" fill="#000"/>
<rect x="944" y="251" width="11" height="6" fill="#000"/>
<rect x="945" y="252" width="9" height="4" fill="#00ff00"/>
<rect x="965" y="230" width="1" height="41" fill="#000"/>
<rect x="960" y="256" width="11" height="6" fill="#000"/>
<rect x="961" y="257" width="9" height="4" fill="#00ff00"/>
<rect x="981" y="237" width="1" height="28" fill="#000"/>
<rect x="976" y="248" width="11" height="14" fill="#000"/>
<rect x="977" y="249" width="9" height="12" fill="#ff0000"/>
<rect x="997" y="268" width="1" height="13" fill="#000"/>
<rect x="992" y="271" width="11" height="4" fill="#000"/>
<rect x="993" y="272" width="9" height="2" fill="#00ff00"/>
<rect x="1013" y="245" width="1" height="37" fill="#000"/>
<rect x="1008" y="252" width="11" height="24" fill="#000"/>
<rect x="1009" y="253" width="9" height="22" fill="#ff0000"/>
<rect x="1029" y="223" width="1" height="34" fill="#000"/>
<rect x="1024" y="225" width="11" height="28" fill="#000"/>
<rect x="1025" y="226" width="9" height="26" fill="#ff0000"/>
<rect x="1045" y="215" width="1" height="26" fill="#000"/>
<rect x="1040" y="224" width="11" height="2" fill="#000"/>
<rect x="1061" y="197" width="1" height="66" fill="#000"/>
<rect x="1056" y="224" width="11" height="25" fill="#000"/>
<rect x="1057" y="225" width="9" height="23" fill="#00ff00"/>
<rect x="1077" y="244" width="1" height="40" fill="#000"/>
<rect x="1072" y="248" width="11" height="35" fill="#000"/>
<rect x="1073" y="249" width="9" height="33" fill="#00ff00"/>
<rect x="1093" y="276" width="1" height="13" fill="#000"/>
<rect x="1088" y="282" width="11" height="6" fill="#000"/>
<rect x="1089" y="283" width="9" height="4" fill="#00ff00"/>
<rect x="1109" y="270" width="1" height="33" fill="#000"/>
<rect x="1104" y="284" width="11" height="5" fill="#000"/>
<rect x="1105" y="285" width="9" height="3" fill="#ff0000"/>
<rect x="1125" y="266" width="1" height="26" fill="#000"/>
<rect x="1120" y="270" width="11" height="14" fill="#000"/>
<rect x="1121" y="271" width="9" height="12" fill="#ff0000"/>
<rect x="1141" y="236" width="1" height="36" fill="#000"/>
<rect x="1136" y="247" width="11" height="24" fill="#000"/>
<rect x="1137" y="248" width="9" height="22" fill="#ff0000"/>
<rect x="1157" y="188" width="1" height="66" fill="#000"/>
<rect x="1152" y="201" width="11" height="47" fill="#000"/>
<rect x="1153" y="202" width="9" height="45" fill="#ff0000"/>
<rect x="1173" y="169" width="1" height="37" fill="#000"/>
<rect x="1168" y="182" width="11" height="20" fill="#000"/>
<rect x="1169" y="183" width="9" height="18" fill="#ff0000"/>
<rect x="1189" y="172" width="1" height="16" fill="#000"/>
<rect x="1184" y="179" width="11" height="4" fill="#000"/>
<rect x="1185" y="180" width="9" height="2" fill="#ff0000"/>
<rect x="1205" y="168" width="1" height="18" fill="#000"/>
<rect x="1200" y="173" width="11" height="6" fill="#000"/>
<rect x="1201" y="174" width="9" height="4" fill="#ff0000"/>
<rect x="1221" y="152" width="1" height="32" fill="#000"/>
<rect x="1216" y="169" width="11" height="5" fill="#000"/>
<rect x="1217" y="170" width="9" height="3" fill="#ff0000"/>
<rect x="1237" y="157" width="1" height="27" fill="#000"/>
<rect x="1232" y="166" width="11" height="4" fill="#000"/>
<rect x="1233" y="167" width="9" height="2" fill="#ff0000"/>
<rect x="1253" y="138" width="1" height="34" fill="#000"/>
<rect x="1248" y="149" width="11" height="18" fill="#000"/>
<rect x="1249" y="150" width="9" height="16" fill="#ff0000"/>
<rect x="1269" y="102" width="1" height="83" fill="#000"/>
<rect x="1264" y="105" width="11" height="45" fill="#000"/>
<rect x="1265" y="106" width="9" height="43" fill="#ff0000"/>
<rect x="1285" y="86" width="1" height="20" fill="#000"/>
<rect x="1280" y="94" width="11" height="12" fill="#000"/>
<rect x="1281" y="95" width="9" height="10" fill="#ff0000"/>
</g>
<clipPath id="cpMain"><rect x="0" y="24" width="1692" height="571"/></clipPath>
<g clip-path="url(#cpMain)">
<g shape-rendering="crispEdges">
<rect x="5" y="26" width="1639" height="2" fill="#ff0000"/>
<rect x="4" y="24" width="6" height="6" fill="#ff0000"/>
<rect x="6" y="26" width="2" height="2" fill="#fff"/>
<rect x="1638" y="24" width="6" height="6" fill="#ff0000"/>
<rect x="1640" y="26" width="2" height="2" fill="#fff"/>
<rect x="1646" y="21" width="41" height="11" fill="#ff0000"/>
</g>
<text x="1649.7" y="30" font-size="9.8" fill="#fff" stroke="#fff" stroke-width="0.2" textLength="33.5" lengthAdjust="spacingAndGlyphs">1.35310</text>
<g shape-rendering="crispEdges">
<rect x="5" y="60" width="1639" height="2" fill="#ff0000"/>
<rect x="4" y="58" width="6" height="6" fill="#ff0000"/>
<rect x="6" y="60" width="2" height="2" fill="#fff"/>
<rect x="1638" y="58" width="6" height="6" fill="#ff0000"/>
<rect x="1640" y="60" width="2" height="2" fill="#fff"/>
<rect x="1646" y="55" width="41" height="11" fill="#ff0000"/>
</g>
<text x="1649.7" y="64" font-size="9.8" fill="#fff" stroke="#fff" stroke-width="0.2" textLength="33.5" lengthAdjust="spacingAndGlyphs">1.34940</text>
<g shape-rendering="crispEdges">
<rect x="5" y="142" width="1639" height="2" fill="#0000ff"/>
<rect x="4" y="140" width="6" height="6" fill="#0000ff"/>
<rect x="6" y="142" width="2" height="2" fill="#fff"/>
<rect x="1638" y="140" width="6" height="6" fill="#0000ff"/>
<rect x="1640" y="142" width="2" height="2" fill="#fff"/>
<rect x="1646" y="137" width="41" height="11" fill="#0000ff"/>
</g>
<text x="1649.7" y="146" font-size="9.8" fill="#fff" stroke="#fff" stroke-width="0.2" textLength="33.5" lengthAdjust="spacingAndGlyphs">1.34023</text>
<g shape-rendering="crispEdges">
<rect x="5" y="174" width="1639" height="2" fill="#0000ff"/>
<rect x="4" y="172" width="6" height="6" fill="#0000ff"/>
<rect x="6" y="174" width="2" height="2" fill="#fff"/>
<rect x="1638" y="172" width="6" height="6" fill="#0000ff"/>
<rect x="1640" y="174" width="2" height="2" fill="#fff"/>
<rect x="1646" y="169" width="41" height="11" fill="#0000ff"/>
</g>
<text x="1649.7" y="178" font-size="9.8" fill="#fff" stroke="#fff" stroke-width="0.2" textLength="33.5" lengthAdjust="spacingAndGlyphs">1.33672</text>
<g shape-rendering="crispEdges">
<rect x="5" y="107" width="1639" height="2" fill="#ffa500"/>
<rect x="4" y="105" width="6" height="6" fill="#ffa500"/>
<rect x="6" y="107" width="2" height="2" fill="#fff"/>
<rect x="1638" y="105" width="6" height="6" fill="#ffa500"/>
<rect x="1640" y="107" width="2" height="2" fill="#fff"/>
<rect x="1646" y="102" width="41" height="11" fill="#ffa500"/>
</g>
<text x="1649.7" y="111" font-size="9.8" fill="#fff" stroke="#fff" stroke-width="0.2" textLength="33.5" lengthAdjust="spacingAndGlyphs">1.34413</text>
<g shape-rendering="crispEdges">
<rect x="5" y="94" width="1639" height="1" fill="#000000"/>
<rect x="1646" y="89" width="41" height="11" fill="#000000"/>
</g>
<text x="1649.7" y="98" font-size="9.8" fill="#fff" stroke="#fff" stroke-width="0.2" textLength="33.5" lengthAdjust="spacingAndGlyphs">1.34576</text>
</g>
<g shape-rendering="crispEdges" fill="#000"><rect x="1310" y="27" width="9" height="1"/><rect x="1311" y="28" width="7" height="1"/><rect x="1312" y="29" width="5" height="1"/><rect x="1313" y="30" width="3" height="1"/><rect x="1314" y="31" width="1" height="1"/></g>
<g fill="#ea151c" stroke="none">
<line x1="1156.6" y1="309.6" x2="1356" y2="144.4" stroke="#ea151c" stroke-width="3.2"/>
<path d="M1368.4 133.6 L1348.9 138.4 L1360.5 152 Z"/>
</g>
<g shape-rendering="crispEdges" fill="#000"><rect x="8" y="33" width="7" height="1"/><rect x="9" y="34" width="5" height="1"/><rect x="10" y="35" width="3" height="1"/><rect x="11" y="36" width="1" height="1"/></g>
<g font-size="9.8" fill="#000" stroke="#000" stroke-width="0.2">
<text x="20.3" y="38" textLength="58.7" lengthAdjust="spacingAndGlyphs">USDCAD-,H4</text>
<text x="84.8" y="38" textLength="33.3" lengthAdjust="spacingAndGlyphs">1.34454</text>
<text x="120.8" y="38" textLength="33.3" lengthAdjust="spacingAndGlyphs">1.34664</text>
<text x="156.9" y="38" textLength="33.3" lengthAdjust="spacingAndGlyphs">1.34449</text>
<text x="192.9" y="38" textLength="33.3" lengthAdjust="spacingAndGlyphs">1.34576</text>
<text x="9.0" y="610.3" textLength="66.1" lengthAdjust="spacingAndGlyphs">MACD(12,26,9)</text>
<text x="77.6" y="610.3" textLength="38.1" lengthAdjust="spacingAndGlyphs">0.005940</text>
<text x="118.6" y="610.3" textLength="38.5" lengthAdjust="spacingAndGlyphs">0.004778</text>
<text x="9.0" y="736" textLength="32.2" lengthAdjust="spacingAndGlyphs">RSI(14)</text>
<text x="43.6" y="736" textLength="33.6" lengthAdjust="spacingAndGlyphs">80.4485</text>
</g>
<g fill="#00ff00" shape-rendering="crispEdges">
<rect x="5" y="638" width="2" height="34"/>
<rect x="20" y="641" width="3" height="31"/>
<rect x="36" y="642" width="3" height="30"/>
<rect x="52" y="643" width="3" height="29"/>
<rect x="68" y="642" width="3" height="30"/>
<rect x="84" y="643" width="3" height="29"/>
<rect x="100" y="646" width="3" height="26"/>
<rect x="116" y="647" width="3" height="25"/>
<rect x="132" y="650" width="3" height="22"/>
<rect x="148" y="654" width="3" height="18"/>
<rect x="164" y="658" width="3" height="14"/>
<rect x="180" y="659" width="3" height="13"/>
<rect x="196" y="661" width="3" height="11"/>
<rect x="212" y="660" width="3" height="12"/>
<rect x="228" y="659" width="3" height="13"/>
<rect x="244" y="654" width="3" height="18"/>
<rect x="260" y="653" width="3" height="19"/>
<rect x="276" y="652" width="3" height="20"/>
<rect x="292" y="652" width="3" height="20"/>
<rect x="308" y="657" width="3" height="15"/>
<rect x="324" y="660" width="3" height="12"/>
<rect x="340" y="663" width="3" height="9"/>
<rect x="356" y="665" width="3" height="7"/>
<rect x="372" y="668" width="3" height="4"/>
<rect x="388" y="670" width="3" height="2"/>
<rect x="404" y="672" width="3" height="3"/>
<rect x="420" y="672" width="3" height="7"/>
<rect x="436" y="672" width="3" height="14"/>
<rect x="452" y="672" width="3" height="23"/>
<rect x="468" y="672" width="3" height="29"/>
<rect x="484" y="672" width="3" height="31"/>
<rect x="500" y="672" width="3" height="32"/>
<rect x="516" y="672" width="3" height="34"/>
<rect x="532" y="672" width="3" height="34"/>
<rect x="548" y="672" width="3" height="38"/>
<rect x="564" y="672" width="3" height="40"/>
<rect x="580" y="672" width="3" height="42"/>
<rect x="596" y="672" width="3" height="43"/>
<rect x="612" y="672" width="3" height="44"/>
<rect x="628" y="672" width="3" height="43"/>
<rect x="644" y="672" width="3" height="44"/>
<rect x="660" y="672" width="3" height="44"/>
<rect x="676" y="672" width="3" height="29"/>
<rect x="692" y="672" width="3" height="14"/>
<rect x="708" y="672" width="3" height="1"/>
<rect x="724" y="662" width="3" height="10"/>
<rect x="740" y="654" width="3" height="18"/>
<rect x="756" y="646" width="3" height="26"/>
<rect x="772" y="643" width="3" height="29"/>
<rect x="788" y="641" width="3" height="31"/>
<rect x="804" y="640" width="3" height="32"/>
<rect x="820" y="639" width="3" height="33"/>
<rect x="836" y="639" width="3" height="33"/>
<rect x="852" y="637" width="3" height="35"/>
<rect x="868" y="634" width="3" height="38"/>
<rect x="884" y="630" width="3" height="42"/>
<rect x="900" y="626" width="3" height="46"/>
<rect x="916" y="624" width="3" height="48"/>
<rect x="932" y="618" width="3" height="54"/>
<rect x="948" y="616" width="3" height="56"/>
<rect x="964" y="615" width="3" height="57"/>
<rect x="980" y="613" width="3" height="59"/>
<rect x="996" y="615" width="3" height="57"/>
<rect x="1012" y="615" width="3" height="57"/>
<rect x="1028" y="613" width="3" height="59"/>
<rect x="1044" y="612" width="3" height="60"/>
<rect x="1060" y="614" width="3" height="58"/>
<rect x="1076" y="620" width="3" height="52"/>
<rect x="1092" y="626" width="3" height="46"/>
<rect x="1108" y="631" width="3" height="41"/>
<rect x="1124" y="634" width="3" height="38"/>
<rect x="1140" y="634" width="3" height="38"/>
<rect x="1156" y="630" width="3" height="42"/>
<rect x="1172" y="625" width="3" height="47"/>
<rect x="1188" y="622" width="3" height="50"/>
<rect x="1204" y="619" width="3" height="53"/>
<rect x="1220" y="617" width="3" height="55"/>
<rect x="1236" y="616" width="3" height="56"/>
<rect x="1252" y="614" width="3" height="58"/>
<rect x="1268" y="609" width="3" height="63"/>
<rect x="1284" y="604" width="3" height="68"/>
</g>
<polyline points="5.5,626.7 21.5,628.3 37.5,631.3 53.5,633.7 69.5,635.3 85.5,637.5 101.5,639.7 117.5,642.5 133.5,644.5 149.5,645.5 165.5,647.5 181.5,649.7 197.5,651.7 213.5,653.7 229.5,655.8 245.5,656.3 261.5,656.7 277.5,657.0 293.5,656.3 309.5,656.0 325.5,656.7 341.5,657.0 357.5,657.5 373.5,658.3 389.5,660.3 405.5,662.2 421.5,665.0 437.5,669.2 453.5,673.3 469.5,677.0 485.5,682.5 501.5,686.7 517.5,690.8 533.5,694.7 549.5,698.5 565.5,702.5 581.5,705.3 597.5,707.7 613.5,709.7 629.5,710.5 645.5,711.7 661.5,712.0 677.5,712.0 693.5,709.2 709.5,705.3 725.5,699.2 741.5,693.3 757.5,685.0 773.5,677.5 789.5,670.0 805.5,660.3 821.5,654.2 837.5,648.3 853.5,644.2 869.5,641.3 885.5,639.2 901.5,636.3 917.5,634.5 933.5,632.5 949.5,629.7 965.5,626.7 981.5,624.7 997.5,621.3 1013.5,619.7 1029.5,617.5 1045.5,616.3 1061.5,615.3 1077.5,615.3 1093.5,616.7 1109.5,618.3 1125.5,620.3 1141.5,622.2 1157.5,624.2 1173.5,625.5 1189.5,626.3 1205.5,626.7 1221.5,626.3 1237.5,625.5 1253.5,623.7 1269.5,621.3 1285.5,617.7" fill="none" stroke="#ff0000" stroke-width="2" stroke-linejoin="round" shape-rendering="crispEdges"/>
<g font-size="9.8" fill="#000" stroke="#000" stroke-width="0.2">
<text x="1647.7" y="608.3" textLength="38.1" lengthAdjust="spacingAndGlyphs">0.006424</text>
<text x="1647.7" y="676" textLength="18.4" lengthAdjust="spacingAndGlyphs">0.00</text>
<text x="1647.2" y="718" textLength="41.9" lengthAdjust="spacingAndGlyphs">-0.004217</text>
</g>
<rect x="1645" y="672" width="2" height="1" fill="#000" shape-rendering="crispEdges"/>
<g shape-rendering="crispEdges">
<line x1="6" y1="745.5" x2="1642" y2="745.5" stroke="#000" stroke-width="1" stroke-dasharray="3 3"/>
<line x1="6" y1="775.5" x2="1642" y2="775.5" stroke="#000" stroke-width="1" stroke-dasharray="3 3"/>
<line x1="6" y1="811.5" x2="1642" y2="811.5" stroke="#000" stroke-width="1" stroke-dasharray="3 3"/>
</g>
<polyline points="5.5,777.0 21.5,770.0 37.5,767.3 53.5,766.8 69.5,762.7 85.5,768.2 101.5,771.0 117.5,771.0 133.5,773.2 149.5,776.5 165.5,777.8 181.5,773.7 197.5,774.8 213.5,769.0 229.5,767.3 245.5,762.0 261.5,766.0 277.5,766.0 293.5,767.7 309.5,779.8 325.5,777.0 341.5,776.5 357.5,776.5 373.5,779.8 389.5,779.0 405.5,784.8 421.5,786.0 437.5,793.2 453.5,796.8 469.5,792.8 485.5,789.0 501.5,789.8 517.5,789.8 533.5,789.8 549.5,794.0 565.5,794.5 581.5,795.7 597.5,794.0 613.5,794.0 629.5,794.0 645.5,794.8 661.5,794.8 677.5,762.7 693.5,758.2 709.5,757.8 725.5,757.8 741.5,757.8 757.5,754.5 773.5,764.8 789.5,763.7 805.5,764.8 821.5,763.7 837.5,764.8 853.5,761.0 869.5,759.0 885.5,756.5 901.5,754.5 917.5,755.7 933.5,752.8 949.5,753.2 965.5,754.8 981.5,753.7 997.5,761.2 1013.5,757.3 1029.5,754.0 1045.5,754.0 1061.5,761.5 1077.5,771.0 1093.5,771.0 1109.5,770.7 1125.5,767.0 1141.5,763.2 1157.5,756.2 1173.5,754.0 1189.5,753.7 1205.5,753.2 1221.5,752.8 1237.5,752.3 1253.5,750.3 1269.5,744.8 1285.5,744.5" fill="none" stroke="#1e90ff" stroke-width="2" stroke-linejoin="round" shape-rendering="crispEdges"/>
<g font-size="9.8" fill="#000" stroke="#000" stroke-width="0.2">
<text x="1647.5" y="734.4" textLength="15.9" lengthAdjust="spacingAndGlyphs">100</text>
<text x="1646.9" y="749" textLength="10.3" lengthAdjust="spacingAndGlyphs">80</text>
<text x="1646.9" y="779" textLength="10.3" lengthAdjust="spacingAndGlyphs">50</text>
<text x="1647.5" y="815" textLength="9.7" lengthAdjust="spacingAndGlyphs">15</text>
<text x="1647.6" y="824" textLength="5.7" lengthAdjust="spacingAndGlyphs">0</text>
</g>
<g shape-rendering="crispEdges">
<rect x="5" y="827" width="1" height="4" fill="#000"/>
<rect x="69" y="827" width="1" height="4" fill="#000"/>
<rect x="133" y="827" width="1" height="4" fill="#000"/>
<rect x="197" y="827" width="1" height="4" fill="#000"/>
<rect x="261" y="827" width="1" height="4" fill="#000"/>
<rect x="325" y="827" width="1" height="4" fill="#000"/>
<rect x="389" y="827" width="1" height="4" fill="#000"/>
<rect x="453" y="827" width="1" height="4" fill="#000"/>
<rect x="517" y="827" width="1" height="4" fill="#000"/>
<rect x="581" y="827" width="1" height="4" fill="#000"/>
<rect x="645" y="827" width="1" height="4" fill="#000"/>
<rect x="709" y="827" width="1" height="4" fill="#000"/>
<rect x="773" y="827" width="1" height="4" fill="#000"/>
<rect x="837" y="827" width="1" height="4" fill="#000"/>
<rect x="901" y="827" width="1" height="4" fill="#000"/>
<rect x="965" y="827" width="1" height="4" fill="#000"/>
<rect x="1029" y="827" width="1" height="4" fill="#000"/>
<rect x="1093" y="827" width="1" height="4" fill="#000"/>
<rect x="1157" y="827" width="1" height="4" fill="#000"/>
<rect x="1221" y="827" width="1" height="4" fill="#000"/>
<rect x="1285" y="827" width="1" height="4" fill="#000"/>
</g>
<g font-size="9.8" fill="#000" stroke="#000" stroke-width="0.2">
<text x="3.5" y="840" textLength="47.2" lengthAdjust="spacingAndGlyphs">2 Sep 2022</text>
<text x="67.5" y="840" textLength="50.8" lengthAdjust="spacingAndGlyphs">5 Sep 04:00</text>
<text x="131.5" y="840" textLength="50.8" lengthAdjust="spacingAndGlyphs">5 Sep 20:00</text>
<text x="195.5" y="840" textLength="50.8" lengthAdjust="spacingAndGlyphs">6 Sep 12:00</text>
<text x="259.5" y="840" textLength="50.8" lengthAdjust="spacingAndGlyphs">7 Sep 04:00</text>
<text x="323.5" y="840" textLength="50.8" lengthAdjust="spacingAndGlyphs">7 Sep 20:00</text>
<text x="387.5" y="840" textLength="50.8" lengthAdjust="spacingAndGlyphs">8 Sep 12:00</text>
<text x="451.5" y="840" textLength="50.8" lengthAdjust="spacingAndGlyphs">9 Sep 04:00</text>
<text x="515.5" y="840" textLength="55.6" lengthAdjust="spacingAndGlyphs">11 Sep 23:00</text>
<text x="579.5" y="840" textLength="55.6" lengthAdjust="spacingAndGlyphs">12 Sep 12:00</text>
<text x="643.5" y="840" textLength="55.6" lengthAdjust="spacingAndGlyphs">13 Sep 04:00</text>
<text x="707.5" y="840" textLength="55.6" lengthAdjust="spacingAndGlyphs">13 Sep 20:00</text>
<text x="771.5" y="840" textLength="55.6" lengthAdjust="spacingAndGlyphs">14 Sep 12:00</text>
<text x="835.5" y="840" textLength="55.6" lengthAdjust="spacingAndGlyphs">15 Sep 04:00</text>
<text x="899.5" y="840" textLength="55.6" lengthAdjust="spacingAndGlyphs">15 Sep 20:00</text>
<text x="963.5" y="840" textLength="55.6" lengthAdjust="spacingAndGlyphs">16 Sep 12:00</text>
<text x="1027.5" y="840" textLength="55.6" lengthAdjust="spacingAndGlyphs">19 Sep 04:00</text>
<text x="1091.5" y="840" textLength="55.6" lengthAdjust="spacingAndGlyphs">19 Sep 20:00</text>
<text x="1155.5" y="840" textLength="55.6" lengthAdjust="spacingAndGlyphs">20 Sep 12:00</text>
<text x="1219.5" y="840" textLength="55.6" lengthAdjust="spacingAndGlyphs">21 Sep 04:00</text>
<text x="1283.5" y="840" textLength="55.6" lengthAdjust="spacingAndGlyphs">21 Sep 20:00</text>
</g>
</svg>
</body>
</html>
